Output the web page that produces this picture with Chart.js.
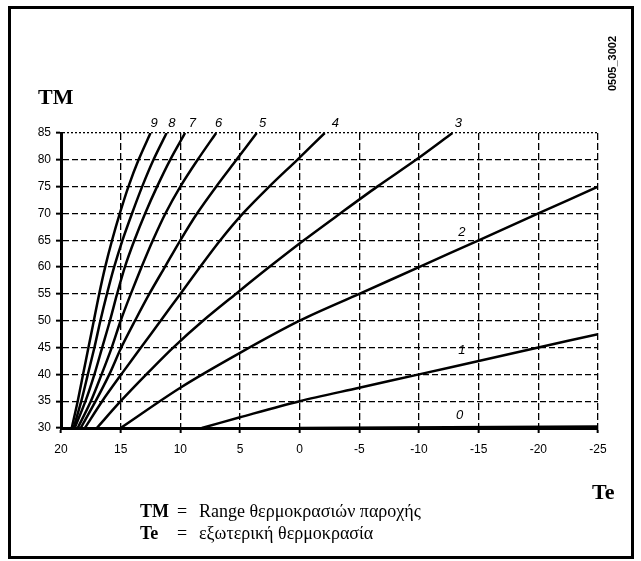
<!DOCTYPE html>
<html>
<head>
<meta charset="utf-8">
<script src="https://cdn.jsdelivr.net/npm/chart.js@4.4.1/dist/chart.umd.min.js"></script>
<style>
  body { margin: 0; background: #fff; }
  #wrap { position: relative; width: 641px; height: 561px; }
  #frame { position: absolute; left: 8px; top: 6px; width: 626px; height: 553px; box-sizing: border-box; border: 3px solid #000; pointer-events: none; }
  canvas { position: absolute; left: 0; top: 0; }
  .t { position: absolute; color: #000; white-space: nowrap; line-height: 1; }
  .big { font: bold 22px "Liberation Serif", serif; }
  .leg { font: 18px "Liberation Serif", serif; }
  .leg b { display: inline-block; width: 37px; }
  .leg i { font-style: normal; display: inline-block; width: 22px; }
  #code { font: bold 11px "Liberation Sans", sans-serif; transform: rotate(-90deg); transform-origin: left top; left: 606px; top: 91px; }
</style>
</head>
<body>
<div id="wrap">
  <canvas id="chart" width="641" height="561"></canvas>
  <div id="frame"></div>
  <div class="t big" style="left:38px; top:84px;">TM</div>
  <div class="t big" style="left:592px; top:479px;">Te</div>
  <div class="t leg" style="left:140px; top:501px;"><b>TM</b><i>=</i>Range θερμοκρασιών παροχής</div>
  <div class="t leg" style="left:140px; top:523px;"><b>Te</b><i>=</i>εξωτερική θερμοκρασία</div>
  <div class="t" id="code">0505_3002</div>
</div>
<script>
// Ύψη TM στα οποία διαβάστηκαν οι καμπύλες 3..9
const tmLevels = [30, 35, 40, 45, 50, 55, 60, 65, 70, 75, 80, 85];
const te9 = [19.1, 18.6, 18.15, 17.7, 17.25, 16.8, 16.3, 15.72, 15.07, 14.35, 13.5, 12.5];
const te8 = [18.95, 18.3, 17.75, 17.2, 16.7, 16.15, 15.55, 14.85, 14.05, 13.2, 12.25, 11.15];
const te7 = [18.85, 17.95, 17.2, 16.55, 15.9, 15.3, 14.65, 13.85, 12.95, 11.95, 10.85, 9.6];
const te6 = [18.6, 17.5, 16.6, 15.75, 15.0, 14.15, 13.25, 12.3, 11.25, 10.0, 8.55, 7.0];
const te5 = [18.35, 17.1, 15.95, 14.95, 13.8, 12.6, 11.3, 10.0, 8.6, 7.0, 5.3, 3.6];
const te4 = [18.0, 16.55, 14.95, 13.3, 11.65, 10.0, 8.35, 6.65, 4.75, 2.55, 0.2, -2.1];
const te3 = [17.0, 15.0, 12.85, 10.6, 8.1, 5.35, 2.55, -0.35, -3.4, -6.5, -9.75, -12.8];

// Καμπύλες 0..2 διαβασμένες στις κάθετες γραμμές
const te2 = [15, 10, 5, 0, -5, -10, -15, -20, -25];
const tm2 = [30, 37.5, 44, 50, 55, 60, 65, 70, 75];
const te1 = [8.2, 5, 0, -5, -10, -15, -20, -25];
const tm1 = [30, 32, 35, 37.5, 40, 42.5, 45, 47.5];
const te0 = [0, -25];
const tm0 = [30, 30.3];

const xTicks = [20, 15, 10, 5, 0, -5, -10, -15, -20, -25];
const yTicks = [30, 35, 40, 45, 50, 55, 60, 65, 70, 75, 80, 85];

// Αριθμοί καμπυλών
const labelNames = ['0', '1', '2', '3', '4', '5', '6', '7', '8', '9'];
const labelTe = [-13.4, -13.6, -13.6, -13.3, -3.0, 3.1, 6.8, 9.0, 10.7, 12.2];
const labelTm = [32.4, 44.5, 66.4, 86.8, 86.8, 86.8, 86.8, 86.8, 86.8, 86.8];

const pts = (xs, ys) => xs.map((x, i) => ({ x: x, y: ys[i] }));

const curves = [
  pts(te0, tm0), pts(te1, tm1), pts(te2, tm2),
  pts(te3, tmLevels), pts(te4, tmLevels), pts(te5, tmLevels),
  pts(te6, tmLevels), pts(te7, tmLevels), pts(te8, tmLevels), pts(te9, tmLevels)
];

const curveLabels = {
  id: 'curveLabels',
  afterDatasetsDraw(chart) {
    const { ctx, scales: { x, y } } = chart;
    ctx.save();
    ctx.font = 'italic 13px "Liberation Sans"';
    ctx.fillStyle = '#000';
    ctx.textAlign = 'center';
    ctx.textBaseline = 'middle';
    labelNames.forEach((t, i) => {
      ctx.fillText(t, x.getPixelForValue(labelTe[i]), y.getPixelForValue(labelTm[i]));
    });
    ctx.restore();
  }
};

const gridOpts = { color: '#000', lineWidth: 1.3, tickLength: 5, tickWidth: 2, tickColor: '#000' };
const tickFont = { family: '"Liberation Sans", Arial, sans-serif', size: 12 };

new Chart(document.getElementById('chart').getContext('2d'), {
  type: 'scatter',
  data: {
    datasets: curves.map((c, i) => ({
      label: labelNames[i],
      data: c,
      showLine: true,
      borderColor: '#000',
      borderWidth: 2.5,
      pointRadius: 0,
      tension: 0.3
    }))
  },
  options: {
    responsive: false,
    animation: false,
    events: [],
    layout: { padding: { left: 0, right: 43, top: 133, bottom: 103 } },
    plugins: { legend: { display: false }, tooltip: { enabled: false } },
    scales: {
      x: {
        type: 'linear',
        reverse: true,
        min: -25,
        max: 20,
        afterBuildTicks: s => { s.ticks = xTicks.map(v => ({ value: v })); },
        afterFit: s => { s.height = 30; },
        ticks: { color: '#000', font: tickFont, padding: 9, maxRotation: 0 },
        grid: gridOpts,
        border: { display: true, color: '#000', width: 3, dash: [7, 3] }
      },
      y: {
        min: 30,
        max: 85,
        afterBuildTicks: s => { s.ticks = yTicks.map(v => ({ value: v })); },
        afterFit: s => { s.width = 61; },
        ticks: { color: '#000', font: tickFont, padding: 5 },
        grid: gridOpts,
        border: {
          display: true, color: '#000', width: 3,
          // η πάνω γραμμή (85) είναι διάστικτη
          dash: ctx => (ctx.tick && ctx.tick.value === 85 ? [2, 2] : [6, 3])
        }
      }
    }
  },
  plugins: [curveLabels]
});
</script>
</body>
</html>
